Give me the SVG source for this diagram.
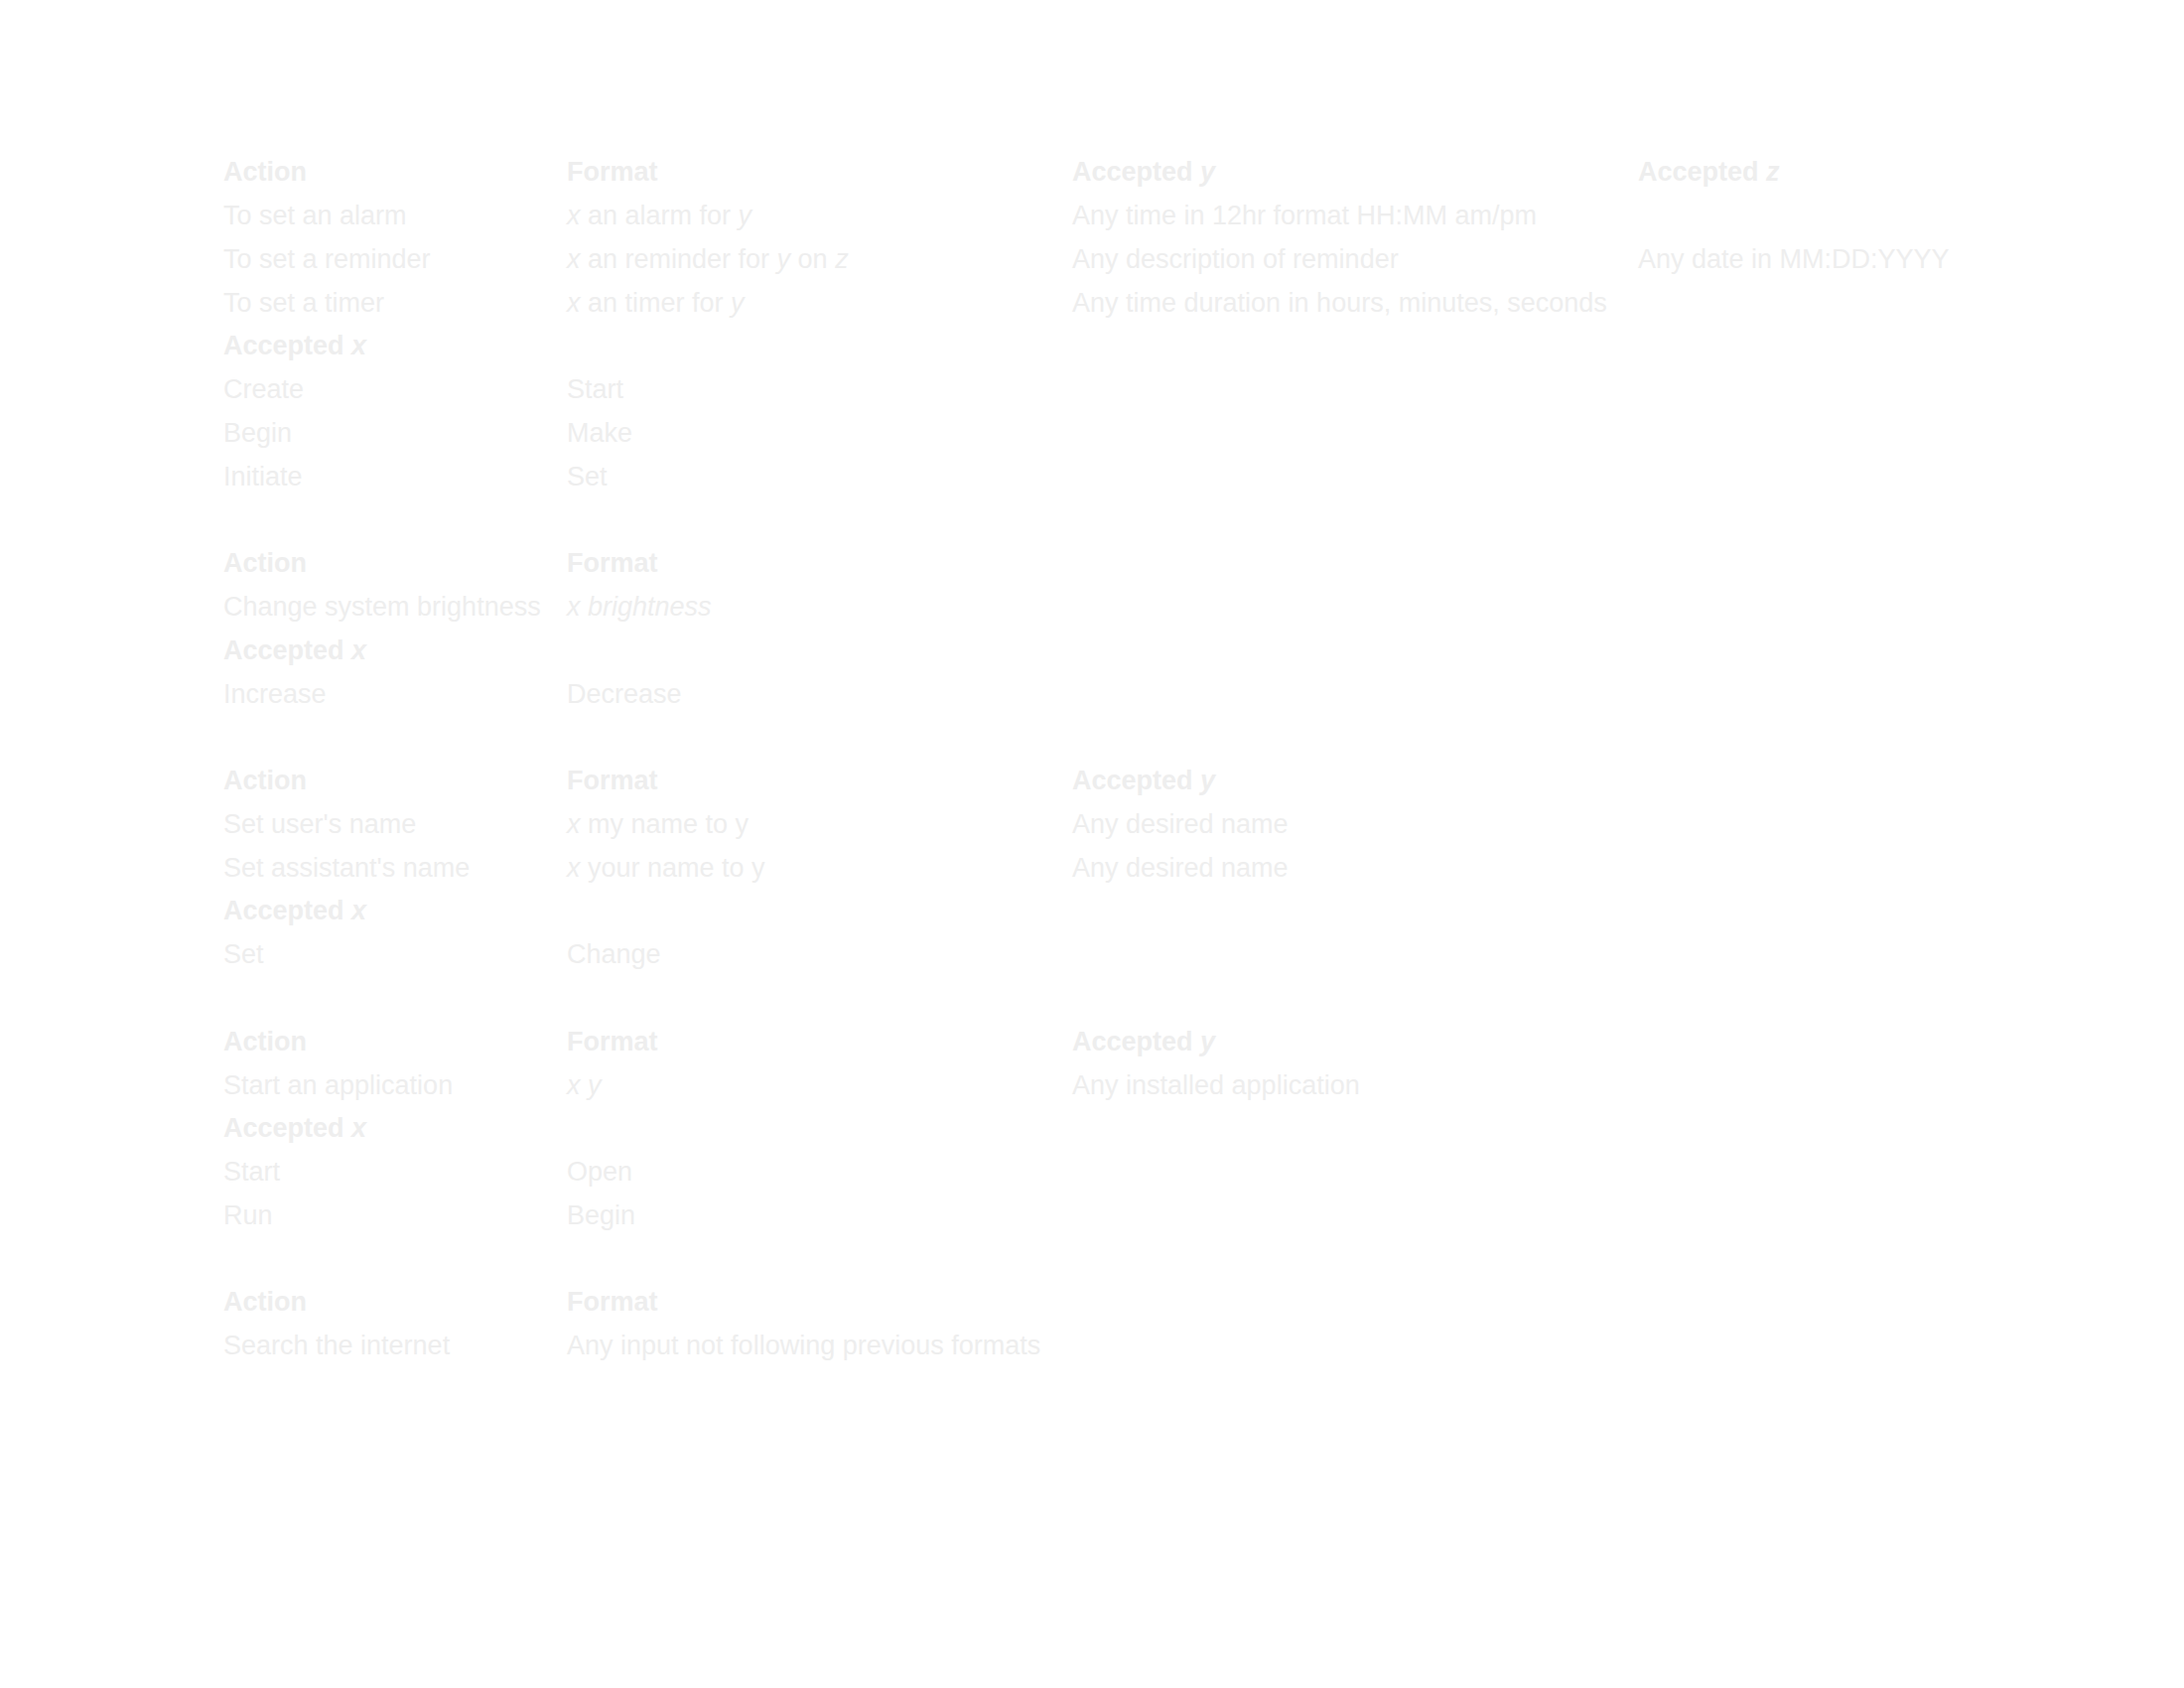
<svg xmlns="http://www.w3.org/2000/svg" width="2200" height="1700" viewBox="0 0 2200 1700">
<style>
text{font-family:"Liberation Sans",Arial,sans-serif;font-size:27px;fill:#eeeeee}
.b{font-weight:bold}
.i{font-style:italic}
</style>
<rect width="2200" height="1700" fill="#ffffff"/>
<g id="section-reminders">
<text class="b" x="225" y="182">Action</text>
<text class="b" x="571" y="182">Format</text>
<text class="b" x="1080" y="182">Accepted <tspan class="i">y</tspan></text>
<text class="b" x="1650" y="182">Accepted <tspan class="i">z</tspan></text>
<text x="225" y="226">To set an alarm</text>
<text x="571" y="226"><tspan class="i">x</tspan> an alarm for <tspan class="i">y</tspan></text>
<text x="1080" y="226">Any time in 12hr format HH:MM am/pm</text>
<text x="225" y="270">To set a reminder</text>
<text x="571" y="270"><tspan class="i">x</tspan> an reminder for <tspan class="i">y</tspan> on <tspan class="i">z</tspan></text>
<text x="1080" y="270">Any description of reminder</text>
<text x="1650" y="270">Any date in MM:DD:YYYY</text>
<text x="225" y="314">To set a timer</text>
<text x="571" y="314"><tspan class="i">x</tspan> an timer for <tspan class="i">y</tspan></text>
<text x="1080" y="314">Any time duration in hours, minutes, seconds</text>
<text class="b" x="225" y="357">Accepted <tspan class="i">x</tspan></text>
<text x="225" y="401">Create</text>
<text x="571" y="401">Start</text>
<text x="225" y="445">Begin</text>
<text x="571" y="445">Make</text>
<text x="225" y="489">Initiate</text>
<text x="571" y="489">Set</text>
</g>
<g id="section-brightness">
<text class="b" x="225" y="576">Action</text>
<text class="b" x="571" y="576">Format</text>
<text x="225" y="620">Change system brightness</text>
<text class="i" x="571" y="620">x brightness</text>
<text class="b" x="225" y="664">Accepted <tspan class="i">x</tspan></text>
<text x="225" y="708">Increase</text>
<text x="571" y="708">Decrease</text>
</g>
<g id="section-names">
<text class="b" x="225" y="795">Action</text>
<text class="b" x="571" y="795">Format</text>
<text class="b" x="1080" y="795">Accepted <tspan class="i">y</tspan></text>
<text x="225" y="839">Set user's name</text>
<text x="571" y="839"><tspan class="i">x</tspan> my name to y</text>
<text x="1080" y="839">Any desired name</text>
<text x="225" y="883">Set assistant's name</text>
<text x="571" y="883"><tspan class="i">x</tspan> your name to y</text>
<text x="1080" y="883">Any desired name</text>
<text class="b" x="225" y="926">Accepted <tspan class="i">x</tspan></text>
<text x="225" y="970">Set</text>
<text x="571" y="970">Change</text>
</g>
<g id="section-applications">
<text class="b" x="225" y="1058">Action</text>
<text class="b" x="571" y="1058">Format</text>
<text class="b" x="1080" y="1058">Accepted <tspan class="i">y</tspan></text>
<text x="225" y="1102">Start an application</text>
<text class="i" x="571" y="1102">x y</text>
<text x="1080" y="1102">Any installed application</text>
<text class="b" x="225" y="1145">Accepted <tspan class="i">x</tspan></text>
<text x="225" y="1189">Start</text>
<text x="571" y="1189">Open</text>
<text x="225" y="1233">Run</text>
<text x="571" y="1233">Begin</text>
</g>
<g id="section-search">
<text class="b" x="225" y="1320">Action</text>
<text class="b" x="571" y="1320">Format</text>
<text x="225" y="1364">Search the internet</text>
<text x="571" y="1364">Any input not following previous formats</text>
</g>
<g id="connectors"/>
</svg>
